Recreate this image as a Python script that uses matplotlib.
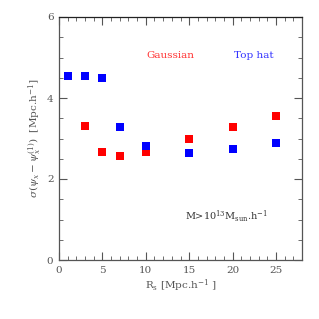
import matplotlib
matplotlib.use("Agg")
import matplotlib.pyplot as plt
from matplotlib.ticker import MultipleLocator

plt.rcParams['font.family'] = ['DejaVu Serif']
plt.rcParams['mathtext.fontset'] = 'dejavuserif'

# data
rs_gauss = [3, 5, 7, 10, 15, 20, 25]
sig_gauss = [3.31, 2.67, 2.58, 2.67, 2.98, 3.29, 3.56]
rs_tophat = [1, 3, 5, 7, 10, 15, 20, 25]
sig_tophat = [4.54, 4.54, 4.49, 3.29, 2.82, 2.63, 2.73, 2.88]

fig = plt.figure(figsize=(3.19, 3.19), dpi=100)
ax = fig.add_axes([59 / 319, 59 / 319, 243 / 319, 243 / 319])

ax.plot(rs_gauss, sig_gauss, 's', color='#ff0000', ms=5.4, mew=0)
ax.plot(rs_tophat, sig_tophat, 's', color='#0000ff', ms=5.4, mew=0)

ax.set_xlim(0, 28)
ax.set_ylim(0, 6)
ax.xaxis.set_major_locator(MultipleLocator(5))
ax.xaxis.set_minor_locator(MultipleLocator(1))
ax.yaxis.set_major_locator(MultipleLocator(2))
ax.yaxis.set_minor_locator(MultipleLocator(0.5))
ax.tick_params(which='both', direction='in', top=True, right=True,
               labelsize=7.5, colors='#555555', labelcolor='#555555')
ax.tick_params(which='major', length=6, width=0.8, pad=4)
ax.tick_params(which='minor', length=3, width=0.6)
for s in ax.spines.values():
    s.set_color('#555555')
    s.set_linewidth(0.9)
ax.spines['top'].set_color('#222222')

ax.set_xlabel(r'R$_{\rm s}$ [Mpc.h$^{-1}$ ]', fontsize=7.5, color='#555555', labelpad=2)
ax.set_ylabel(r'$\sigma(\psi_x - \psi_x^{(1)})$  [Mpc.h$^{-1}$]', fontsize=7.5,
              color='#555555', labelpad=3)

ax.text(12.8, 5.06, 'Gaussian', color='#ff3333', fontsize=7.5, ha='center', va='center')
ax.text(22.5, 5.06, 'Top hat', color='#3333ff', fontsize=7.5, ha='center', va='center')
ax.text(19.3, 1.06, r'M>10$^{13}$M$_{\rm sun}$.h$^{-1}$', color='#333333', fontsize=7,
        ha='center', va='center')

fig.savefig('out.png', dpi=100)
